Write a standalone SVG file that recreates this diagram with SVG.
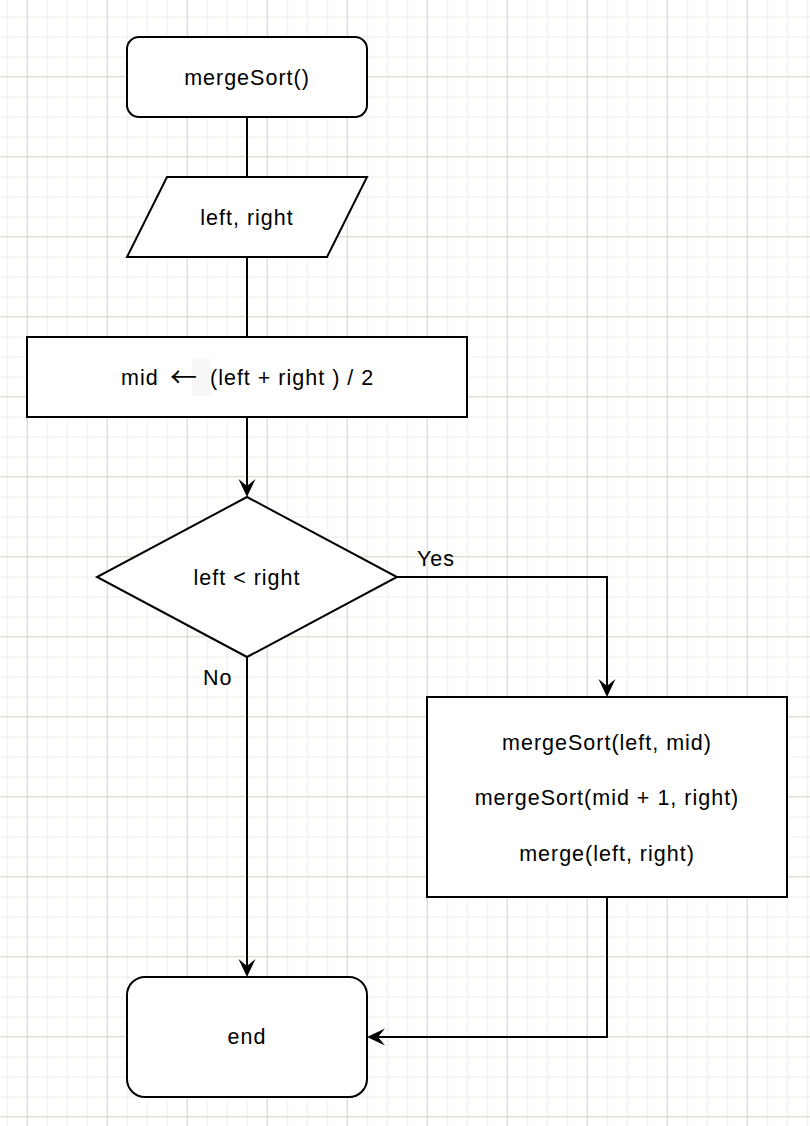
<svg xmlns="http://www.w3.org/2000/svg" width="810" height="1126" viewBox="0 0 810 1126">
  <defs>
    <pattern id="grid" patternUnits="userSpaceOnUse" x="26.7" y="-3.7" width="80" height="80">
      <rect width="80" height="80" fill="#ffffff"/>
      <rect x="20" y="0" width="1.3" height="80" fill="#f1f1eb"/>
      <rect x="40" y="0" width="1.3" height="80" fill="#f1f1eb"/>
      <rect x="60" y="0" width="1.3" height="80" fill="#f1f1eb"/>
      <rect x="0" y="20" width="80" height="1.3" fill="#f1f1eb"/>
      <rect x="0" y="40" width="80" height="1.3" fill="#f1f1eb"/>
      <rect x="0" y="60" width="80" height="1.3" fill="#f1f1eb"/>
      <rect x="0" y="0" width="1" height="80" fill="#d3d3bd"/>
      <rect x="0" y="0" width="80" height="1" fill="#d3d3bd"/>
    </pattern>
    <marker id="arrow" viewBox="0 0 18 18" refX="8" refY="9" markerWidth="18" markerHeight="18" markerUnits="userSpaceOnUse" orient="auto">
      <path d="M18,9 L0,0.5 L7,9 L0,17.5 Z" fill="#000000"/>
    </marker>
    <style>
      .shape { fill: #ffffff; stroke: #000000; stroke-width: 2; }
      .edge { fill: none; stroke: #000000; stroke-width: 2; }
      .label { font-family: "Liberation Sans", Arial, Helvetica, sans-serif; font-size: 21.5px; letter-spacing: 1px; fill: #000000; }
      .c { text-anchor: middle; }
      .sym { font-family: "Noto Sans CJK SC", "DejaVu Sans", sans-serif; font-size: 27px; letter-spacing: 0; }
    </style>
  </defs>

  <rect x="0" y="0" width="810" height="1126" fill="url(#grid)"/>

  <g id="connectors">
    <path class="edge" d="M247,117 V177"/>
    <path class="edge" d="M247,257 V337"/>
    <path class="edge" d="M247,417 V487" marker-end="url(#arrow)"/>
    <path class="edge" d="M397,577 H607 V687" marker-end="url(#arrow)"/>
    <path class="edge" d="M247,657 V967" marker-end="url(#arrow)"/>
    <path class="edge" d="M607,897 V1037 H377" marker-end="url(#arrow)"/>
    <text class="label" x="417" y="566">Yes</text>
    <text class="label" x="203" y="685">No</text>
  </g>

  <g id="start">
    <rect class="shape" x="127" y="37" width="240" height="80" rx="12" ry="12"/>
    <text class="label c" x="247" y="85">mergeSort()</text>
  </g>

  <g id="input">
    <polygon class="shape" points="167,177 367,177 327,257 127,257"/>
    <text class="label c" x="247" y="225">left, right</text>
  </g>

  <g id="compute-mid">
    <rect class="shape" x="27" y="337" width="440" height="80"/>
    <rect x="192" y="358" width="18" height="38" fill="#f7f7f7"/>
    <text class="label" y="385"><tspan x="121">mid </tspan><tspan class="sym" x="170" y="387">←</tspan><tspan x="210" y="385">(left + right ) / 2</tspan></text>
  </g>

  <g id="decision">
    <polygon class="shape" points="247,497 397,577 247,657 97,577"/>
    <text class="label c" x="247" y="585">left &lt; right</text>
  </g>

  <g id="recurse">
    <rect class="shape" x="427" y="697" width="360" height="200"/>
    <text class="label c" x="607" y="750">mergeSort(left, mid)</text>
    <text class="label c" x="607" y="805">mergeSort(mid + 1, right)</text>
    <text class="label c" x="607" y="861">merge(left, right)</text>
  </g>

  <g id="end">
    <rect class="shape" x="127" y="977" width="240" height="120" rx="18" ry="18"/>
    <text class="label c" x="247" y="1044">end</text>
  </g>
</svg>
